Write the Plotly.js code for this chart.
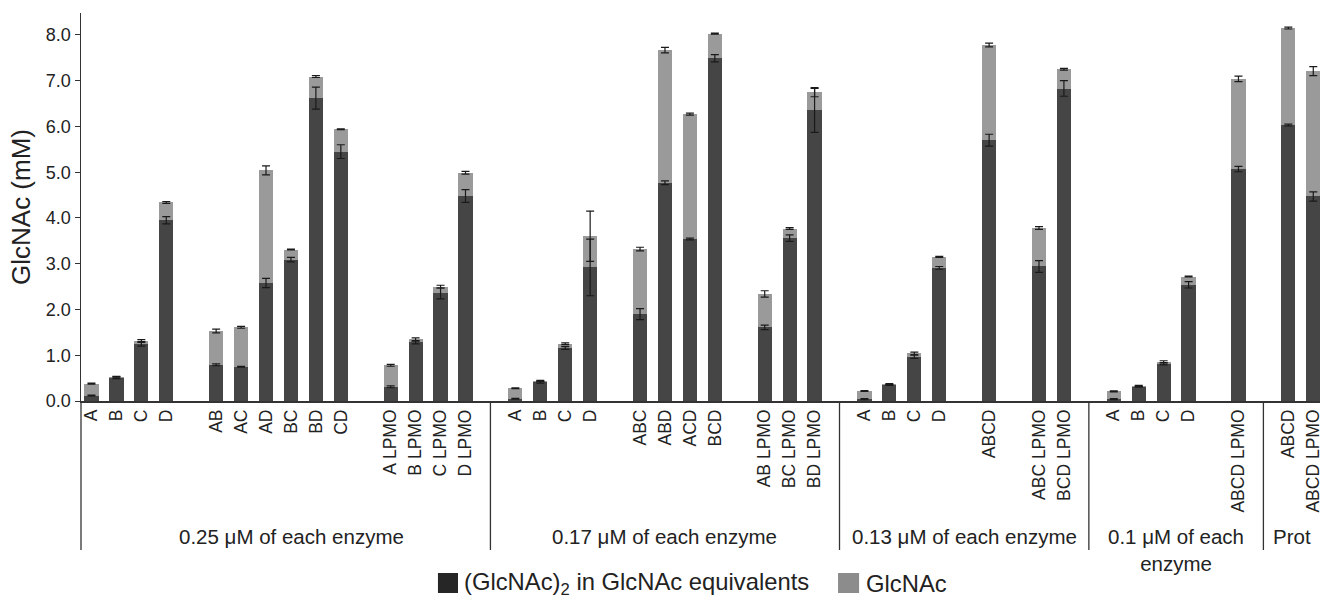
<!DOCTYPE html>
<html><head><meta charset="utf-8">
<script src="https://cdn.plot.ly/plotly-3.0.1.min.js"></script>
<style>html,body{margin:0;padding:0;background:#fff}#chart{width:1320px;height:601px}</style>
</head><body><div id="chart"></div>
<script>
// ---- data ----
const groupNames = ['0.25 μM of each enzyme', '0.17 μM of each enzyme', '0.13 μM of each enzyme', '0.1 μM of each<br>enzyme', 'Prot'];
const subgroupSizes = [[4, 6, 4], [4, 4, 3], [4, 1, 2], [4, 1], [2]];
const labels = [
  'A', 'B', 'C', 'D', 'AB', 'AC', 'AD', 'BC', 'BD', 'CD', 'A LPMO', 'B LPMO', 'C LPMO', 'D LPMO',
  'A', 'B', 'C', 'D', 'ABC', 'ABD', 'ACD', 'BCD', 'AB LPMO', 'BC LPMO', 'BD LPMO',
  'A', 'B', 'C', 'D', 'ABCD', 'ABC LPMO', 'BCD LPMO',
  'A', 'B', 'C', 'D', 'ABCD LPMO',
  'ABCD', 'ABCD LPMO'
];
// (GlcNAc)2 in GlcNAc equivalents
const dimer = [
  0.12, 0.51, 1.24, 3.95, 0.79, 0.75, 2.58, 3.09, 6.62, 5.45, 0.31, 1.28, 2.35, 4.48,
  0.05, 0.41, 1.16, 2.92, 1.90, 4.77, 3.54, 7.49, 1.61, 3.56, 6.35,
  0.04, 0.35, 0.97, 2.91, 5.70, 2.94, 6.83,
  0.04, 0.31, 0.81, 2.54, 5.07,
  6.03, 4.47
];
// GlcNAc
const glcnac = [
  0.26, 0.02, 0.08, 0.39, 0.74, 0.86, 2.46, 0.22, 0.47, 0.49, 0.47, 0.07, 0.15, 0.51,
  0.23, 0.03, 0.09, 0.68, 1.42, 2.90, 2.73, 0.54, 0.73, 0.21, 0.40,
  0.18, 0.02, 0.07, 0.24, 2.08, 0.84, 0.42,
  0.17, 0.02, 0.05, 0.18, 1.97,
  2.12, 2.74
];
const dimerErr = [
  0.01, 0.02, 0.04, 0.08, 0.02, 0.01, 0.10, 0.05, 0.24, 0.15, 0.02, 0.03, 0.12, 0.14,
  0.01, 0.02, 0.03, 0.62, 0.12, 0.04, 0.02, 0.08, 0.05, 0.07, 0.48,
  0.01, 0.01, 0.04, 0.03, 0.13, 0.13, 0.17,
  0.01, 0.01, 0.02, 0.07, 0.06,
  0.02, 0.10
];
const totalErr = [
  0.01, 0.01, 0.02, 0.02, 0.04, 0.02, 0.10, 0.01, 0.02, 0.01, 0.02, 0.03, 0.03, 0.03,
  0.01, 0.01, 0.02, 0.55, 0.04, 0.06, 0.02, 0.01, 0.07, 0.02, 0.10,
  0.01, 0.01, 0.03, 0.01, 0.04, 0.03, 0.02,
  0.01, 0.01, 0.02, 0.01, 0.06,
  0.02, 0.10
];

// ---- layout of slots: one empty slot between subgroups, one divider slot between groups ----
const xMin = -0.42, xMax = 49.27;
const xPos = [];
const dividers = [];
let slot = 0;
subgroupSizes.forEach((subs, g) => {
  subs.forEach((n, s) => {
    for (let i = 0; i < n; i++) xPos.push(slot++);
    if (s < subs.length - 1) slot++;
  });
  if (g < subgroupSizes.length - 1) { dividers.push(slot); slot++; }
});
const bounds = [xMin, ...dividers, xMax];
const total = dimer.map((d, i) => d + glcnac[i]);

const FONT = '"Liberation Sans", Arial, Helvetica, sans-serif';
const TXT = '#222';

const traces = [
  { type: 'bar', x: xPos, y: dimer, name: '(GlcNAc)<sub>2</sub> in GlcNAc equivalents',
    marker: { color: '#454545', line: { width: 0 } }, width: 0.57, showlegend: false, hoverinfo: 'y' },
  { type: 'bar', x: xPos, y: glcnac, name: 'GlcNAc',
    marker: { color: '#9a9a9a', line: { width: 0 } }, width: 0.57, showlegend: false, hoverinfo: 'y' },
  { type: 'scatter', mode: 'markers', x: xPos, y: dimer, marker: { opacity: 0, size: 1 },
    error_y: { type: 'data', array: dimerErr, visible: true, color: '#1a1a1a', thickness: 1.2, width: 4 },
    showlegend: false, hoverinfo: 'skip' },
  { type: 'scatter', mode: 'markers', x: xPos, y: total, marker: { opacity: 0, size: 1 },
    error_y: { type: 'data', array: totalErr, visible: true, color: '#1a1a1a', thickness: 1.2, width: 4 },
    showlegend: false, hoverinfo: 'skip' }
];

const shapes = [];
const annotations = [];
// y axis line extension below the x axis
shapes.push({ type: 'line', xref: 'paper', yref: 'paper', x0: 0, x1: 0, y0: 0, y1: -0.384,
  line: { color: '#333', width: 1.3 } });
dividers.forEach(d => shapes.push({ type: 'line', xref: 'x', yref: 'paper', x0: d, x1: d, y0: 0, y1: -0.384,
  line: { color: '#333', width: 1.3 } }));
groupNames.forEach((name, g) => {
  annotations.push({ xref: 'x', yref: 'paper', x: (bounds[g] + bounds[g + 1]) / 2, y: -0.3144,
    xanchor: 'center', yanchor: 'top', text: name, showarrow: false,
    xshift: g === 0 ? 6 : 0,
    font: { family: FONT, size: 20.5, color: TXT } });
});
// legend (drawn below the plot)
shapes.push({ type: 'rect', xref: 'paper', yref: 'paper', x0: 0.2881, x1: 0.3043, y0: -0.4433, y1: -0.4948,
  fillcolor: '#262626', line: { width: 0 } });
shapes.push({ type: 'rect', xref: 'paper', yref: 'paper', x0: 0.611, x1: 0.628, y0: -0.4433, y1: -0.4948,
  fillcolor: '#8c8c8c', line: { width: 0 } });
annotations.push({ xref: 'paper', yref: 'paper', x: 0.3075, y: -0.4691, xanchor: 'left', yanchor: 'middle',
  text: traces[0].name, showarrow: false, font: { family: FONT, size: 23.8, color: TXT } });
annotations.push({ xref: 'paper', yref: 'paper', x: 0.632, y: -0.4691, xanchor: 'left', yanchor: 'middle',
  text: traces[1].name, showarrow: false, font: { family: FONT, size: 23.8, color: TXT } });

const layout = {
  width: 1320, height: 601,
  margin: { l: 81, r: 0, t: 13, b: 200, pad: 0 },
  paper_bgcolor: '#fff', plot_bgcolor: '#fff',
  barmode: 'stack',
  font: { family: FONT, color: TXT },
  xaxis: {
    range: [xMin, xMax], tickmode: 'array', tickvals: xPos, ticktext: labels, tickangle: -90,
    ticklabeloverflow: 'allow',
    ticks: '', showgrid: false, zeroline: false, showline: true, linecolor: '#333', linewidth: 1.5,
    tickfont: { family: FONT, size: 17.5, color: TXT }, fixedrange: true
  },
  yaxis: {
    range: [0, 8.48], dtick: 1, tick0: 0, tickformat: '.1f', ticks: 'outside', ticklen: 5, tickcolor: '#333',
    showgrid: false, zeroline: false, showline: true, linecolor: '#333', linewidth: 1.5,
    tickfont: { family: FONT, size: 18, color: TXT },
    title: { text: 'GlcNAc (mM)', font: { family: FONT, size: 26, color: TXT }, standoff: 8 }
  },
  shapes: shapes,
  annotations: annotations,
  showlegend: false
};

Plotly.newPlot('chart', traces, layout, { displayModeBar: false, staticPlot: true });
</script>
</body></html>
